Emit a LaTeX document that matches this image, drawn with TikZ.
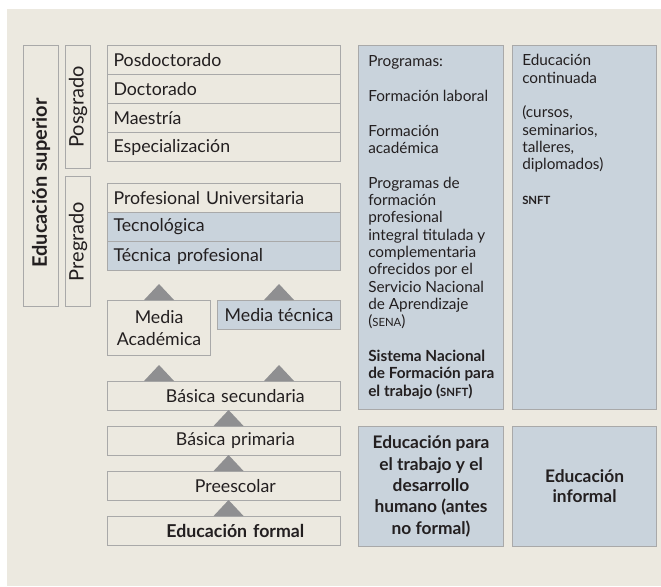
\documentclass[tikz,border=0pt]{standalone}
\usepackage{fontspec}
\setmainfont{Lato}
\usetikzlibrary{shadows}

\definecolor{fondo}{HTML}{ECE9E0}
\definecolor{azulgris}{HTML}{C9D3DC}
\definecolor{borde}{HTML}{A9A9A9}
\definecolor{gristri}{HTML}{8F8F91}
\definecolor{tinta}{HTML}{231F20}

% siglas en versalitas falsas
\newcommand{\sigla}[1]{{\fontsize{8.5}{10}\selectfont #1}}
% triangulo gris con la base centrada en el punto dado
\newcommand{\flecha}[1]{\fill[gristri] (#1) ++(-15,0) -- ++(15,-16) -- ++(15,16) -- cycle;}

\tikzset{
  caja/.style={rectangle, draw=borde, fill=fondo, line width=0.8pt,
               anchor=north west, inner sep=0pt, text=tinta,
               drop shadow={shadow xshift=0.6pt, shadow yshift=-0.6pt,
                            fill=black!40, opacity=1}},
  fila/.style={caja, minimum width=174.75pt, minimum height=21.75pt,
               text width=165.75pt, inner xsep=4.5pt, align=left,
               font=\fontsize{13.3}{15}\selectfont},
  filac/.style={fila, align=center},
  texto/.style={inner sep=0pt, text=tinta, align=left,
                font=\fontsize{11.5}{13}\selectfont}
}

\begin{document}
\begin{tikzpicture}[x=0.75pt, y=-0.75pt]

\fill[white] (0,0) rectangle (661,586);
\fill[fondo] (7,9) rectangle (661,586);
\useasboundingbox (0,0) rectangle (661,586);

% columna de niveles
\node[caja, minimum width=26.25pt, minimum height=195.75pt] (sup) at (23,45)
    {\rotatebox{90}{\fontsize{15}{18}\selectfont\bfseries Educación superior\hspace*{10.5pt}}};
\node[caja, minimum width=18.75pt, minimum height=92.25pt] (posg) at (65,45)
    {\rotatebox{90}{\fontsize{15}{17}\selectfont Posgrado}};
\node[caja, minimum width=18.75pt, minimum height=97.5pt] (preg) at (65,176)
    {\rotatebox{90}{\fontsize{15}{17}\selectfont Pregrado}};

% posgrado
\node[fila] (posdoc) at (107,45)  {Posdoctorado};
\node[fila] (doc)    at (107,74)  {Doctorado};
\node[fila] (maes)   at (107,103) {Maestría};
\node[fila] (espe)   at (107,132) {Especialización};

% pregrado
\node[fila] (profu)  at (107,183) {Profesional Universitaria};
\node[fila, fill=azulgris] (tecno)  at (107,212) {Tecnológica};
\node[fila, fill=azulgris] (tecpro) at (107,241) {Técnica profesional};

% media
\node[caja, minimum width=77.25pt, minimum height=41.25pt, align=center,
      font=\fontsize{13.3}{17}\selectfont] (medaca) at (107,300) {Media\\Académica};
\node[caja, fill=azulgris, minimum width=92.25pt, minimum height=21.75pt,
      font=\fontsize{13.3}{15}\selectfont] (medtec) at (217,300) {Media técnica};

% basica y preescolar
\node[filac] (bsec)  at (107,381) {\hspace*{17pt}Básica secundaria};
\node[filac] (bpri)  at (107,426) {\hspace*{17pt}Básica primaria};
\node[filac] (pree)  at (107,471) {\hspace*{17pt}Preescolar};
\node[filac] (eform) at (107,516) {\hspace*{17pt}\textbf{Educación formal}};

\flecha{medaca.north}
\flecha{medtec.north}
\flecha{bsec.north -| medaca.north}
\flecha{bsec.north -| medtec.north}
\flecha{[xshift=3.4pt]bpri.north}
\flecha{[xshift=3.4pt]pree.north}
\flecha{[xshift=3.4pt]eform.north}

% trabajo y desarrollo humano
\node[caja, fill=azulgris, minimum width=108.75pt, minimum height=273pt] (prog) at (358,45) {};
\node[texto, anchor=north west] (progtxt) at ([xshift=7.5pt,yshift=-8pt]prog.north west)
    {Programas:\\[13pt]
     Formación laboral\\[13pt]
     Formación\\académica\\[13pt]
     Programas de\\formación\\profesional\\integral titulada y\\complementaria\\
     ofrecidos por el\\Servicio Nacional\\de Aprendizaje\\(\sigla{SENA})\\[13pt]
     \textbf{Sistema Nacional}\\\textbf{de Formación para}\\\textbf{el trabajo (\sigla{SNFT})}};

\node[caja, fill=azulgris, minimum width=108pt, minimum height=273pt] (cont) at (512,45) {};
\node[texto, anchor=north west] (conttxt) at ([xshift=7.5pt,yshift=-7pt]cont.north west)
    {Educación\\continuada\\[13pt]
     (cursos,\\seminarios,\\talleres,\\diplomados)\\[13pt]
     \textbf{\sigla{SNFT}}};

\node[caja, fill=azulgris, minimum width=108.75pt, minimum height=90pt, align=center,
      font=\fontsize{13}{16}\selectfont\bfseries] (etdh) at (358,426)
    {Educación para\\el trabajo y el\\desarrollo\\humano (antes\\no formal)};
\node[caja, fill=azulgris, minimum width=108pt, minimum height=90pt, align=center,
      font=\fontsize{13}{15}\selectfont\bfseries] (inf) at (512,426)
    {Educación\\informal};

\end{tikzpicture}
\end{document}
